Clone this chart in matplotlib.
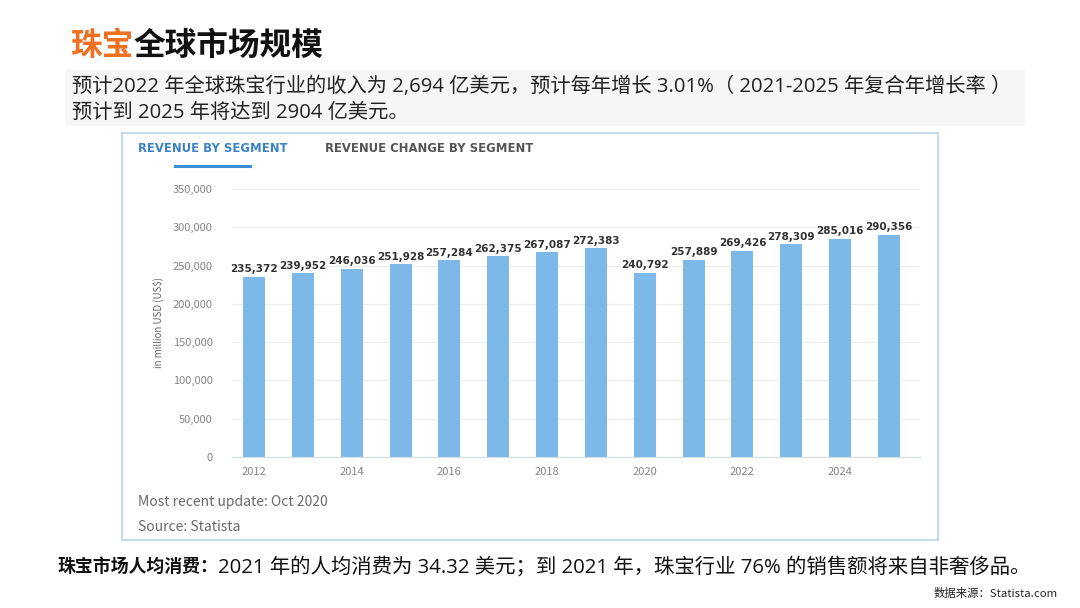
import matplotlib.pyplot as plt
from matplotlib.patches import Rectangle
from matplotlib.lines import Line2D
from matplotlib.ticker import FuncFormatter

plt.rcParams['font.family'] = ['Noto Sans CJK SC', 'DejaVu Sans']

# data
years = [2012, 2013, 2014, 2015, 2016, 2017, 2018, 2019, 2020, 2021, 2022, 2023, 2024, 2025]
revenue = [235372, 239952, 246036, 251928, 257284, 262375, 267087, 272383,
           240792, 257889, 269426, 278309, 285016, 290356]
x_ticks = [2012, 2014, 2016, 2018, 2020, 2022, 2024]
y_ticks = [0, 50000, 100000, 150000, 200000, 250000, 300000, 350000]

W, H = 1080, 608
fig = plt.figure(figsize=(W / 100, H / 100), dpi=100)
fig.patch.set_facecolor('white')

# latin glyphs from Open Sans, chinese falls back to Noto
text_fonts = ['Open Sans', 'Noto Sans CJK SC']


def fx(px):
    return px / W


def fy(py):
    return 1 - py / H


# light panel behind the subtitle
fig.patches.append(Rectangle((fx(65), fy(126)), fx(1025) - fx(65), fy(70) - fy(126),
                             transform=fig.transFigure, facecolor='#f6f6f6',
                             edgecolor='none', zorder=0))

# title: orange + black
renderer = fig.canvas.get_renderer()
t1 = fig.text(fx(70), fy(46), '珠宝', fontsize=22.8, fontweight='bold',
              color='#f07022', va='center', ha='left')
bb = t1.get_window_extent(renderer=renderer)
fig.text(bb.x1 / W, fy(46), '全球市场规模', fontsize=22.8, fontweight='bold',
         color='#111111', va='center', ha='left')

fig.text(fx(72), fy(87), '预计2022 年全球珠宝行业的收入为 2,694 亿美元，预计每年增长 3.01%（ 2021-2025 年复合年增长率 ）',
         fontsize=14.6, color='#222222', va='center', ha='left', family=text_fonts)
fig.text(fx(72), fy(113), '预计到 2025 年将达到 2904 亿美元。',
         fontsize=14.6, color='#222222', va='center', ha='left', family=text_fonts)

# chart card
fig.patches.append(Rectangle((fx(122), fy(540)), fx(938) - fx(122), fy(133) - fy(540),
                             transform=fig.transFigure, facecolor='white',
                             edgecolor='#c4dbe6', linewidth=1.5, zorder=1))

fig.text(fx(138), fy(149), 'REVENUE BY SEGMENT', fontsize=8.4, fontweight='bold',
         color='#3b82c4', va='center', ha='left', family=['DejaVu Sans'])
fig.text(fx(325), fy(149), 'REVENUE CHANGE BY SEGMENT', fontsize=8.4, fontweight='bold',
         color='#555555', va='center', ha='left', family=['DejaVu Sans'])
fig.lines.append(Line2D([fx(175), fx(250)], [fy(166), fy(166)], transform=fig.transFigure,
                        color='#3b8fd6', linewidth=2.2, zorder=3))

ax = fig.add_axes([fx(232), fy(457), fx(920) - fx(232), fy(189) - fy(457)])
ax.set_zorder(2)
ax.patch.set_alpha(0)

ax.bar(years, revenue, width=0.45, color='#7cb8e8', zorder=2)
for x, v in zip(years, revenue):
    ax.text(x, v + 3000, f'{v:,}', ha='center', va='bottom', fontsize=7.5,
            fontweight='bold', color='#333333', family=['DejaVu Sans'])

ax.set_xlim(2012 - 0.45, 2025 + 0.635)
ax.set_ylim(0, 350000)
ax.set_yticks(y_ticks)
ax.set_xticks(x_ticks)
ax.yaxis.set_major_formatter(FuncFormatter(lambda v, p: f'{int(v):,}'))
ax.tick_params(axis='both', length=0, labelsize=8, labelcolor='#858585')
ax.tick_params(axis='y', pad=14)
ax.tick_params(axis='x', pad=7)
ax.grid(axis='y', color='#ececec', linewidth=0.8, zorder=0)
for s in ['top', 'right', 'left']:
    ax.spines[s].set_visible(False)
ax.spines['bottom'].set_color('#d5dde3')
ax.set_ylabel('in million USD (US$)', fontsize=7, color='#666666', labelpad=6)

fig.text(fx(138), fy(502), 'Most recent update: Oct 2020', fontsize=10, color='#6a6a6a',
         va='center', ha='left')
fig.text(fx(138), fy(527), 'Source: Statista', fontsize=10, color='#6a6a6a',
         va='center', ha='left')

# footer
t2 = fig.text(fx(57), fy(567), '珠宝市场人均消费：', fontsize=12.9, fontweight='bold',
              color='#111111', va='center', ha='left')
bb2 = t2.get_window_extent(renderer=renderer)
fig.text(bb2.x1 / W, fy(567), '2021 年的人均消费为 34.32 美元；到 2021 年，珠宝行业 76% 的销售额将来自非奢侈品。',
         fontsize=14.7, color='#111111', va='center', ha='left', family=text_fonts)
fig.text(fx(1058), fy(594), '数据来源：Statista.com', fontsize=8.2, color='#222222',
         va='center', ha='right')

fig.savefig('out.png', dpi=100)
